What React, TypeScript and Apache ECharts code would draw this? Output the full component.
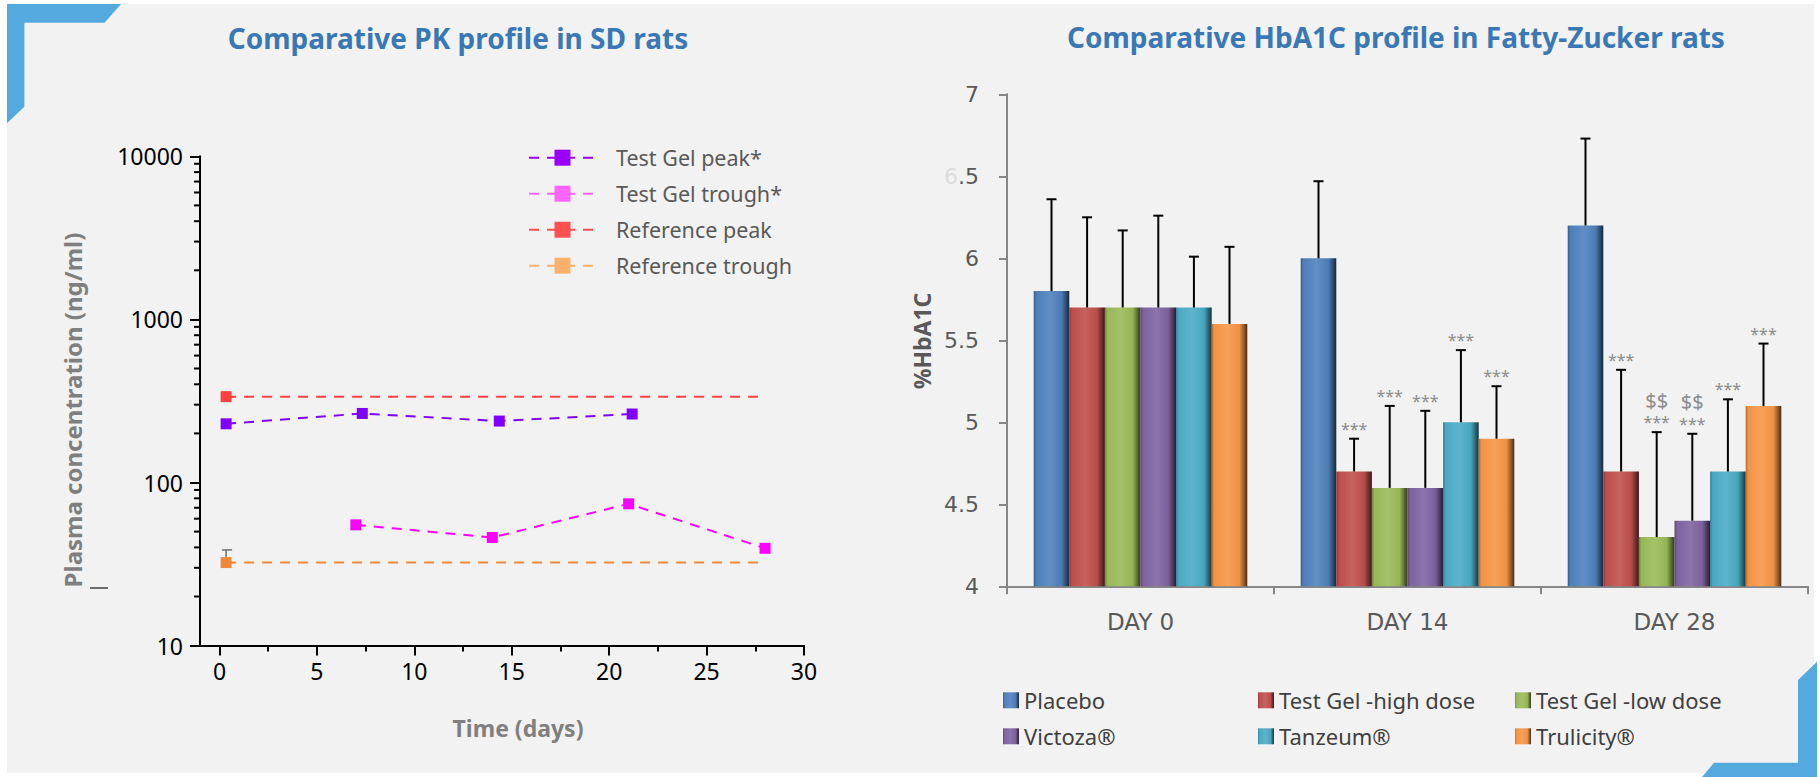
import React, { useEffect, useRef } from "react";
import * as echarts from "echarts";

// ---------- Left chart: PK profile (log scale) ----------
const pkXMin = -1;
const pkXMax = 30;
const pkMajorX = [0, 5, 10, 15, 20, 25, 30];
const pkMinorX = [2.5, 7.5, 12.5, 17.5, 22.5, 27.5];
const pkMinorY = [20, 30, 40, 50, 60, 70, 80, 90, 200, 300, 400, 500, 600, 700, 800, 900, 2000, 3000, 4000, 5000, 6000, 7000, 8000, 9000];

const peakDays = [0.34, 7.33, 14.36, 21.18];
const peakValues = [229, 265, 238, 263];
const troughDays = [7.0, 14.0, 21.0, 28.0];
const troughValues = [55, 46, 74, 39.5];
const refPeakDays = [0.34, 28];
const refPeakValues = [336, 336];
const refTroughDays = [0.34, 28];
const refTroughValues = [32.3, 32.3];
const refTroughErrTop = [38.6];

const pkNames = ["Test Gel peak*", "Test Gel trough*", "Reference peak", "Reference trough"];

// ---------- Right chart: HbA1C bars ----------
const hbCategories = ["DAY 0", "DAY 14", "DAY 28"];
const hbGroups = ["Placebo", "Test Gel -high dose", "Test Gel -low dose", "Victoza®", "Tanzeum®", "Trulicity®"];
const placebo = [5.8, 6.0, 6.2];
const highDose = [5.7, 4.7, 4.7];
const lowDose = [5.7, 4.6, 4.3];
const victoza = [5.7, 4.6, 4.4];
const tanzeum = [5.7, 5.0, 4.7];
const trulicity = [5.6, 4.9, 5.1];
const placeboErr = [6.36, 6.47, 6.73];
const highDoseErr = [6.25, 4.9, 5.32];
const lowDoseErr = [6.17, 5.1, 4.94];
const victozaErr = [6.26, 5.07, 4.93];
const tanzeumErr = [6.01, 5.44, 5.14];
const trulicityErr = [6.07, 5.22, 5.48];
const placeboSig = ["", "", ""];
const highDoseSig = ["", "***", "***"];
const lowDoseSig = ["", "***", "***"];
const victozaSig = ["", "***", "***"];
const tanzeumSig = ["", "***", "***"];
const trulicitySig = ["", "***", "***"];
const placeboSig2 = ["", "", ""];
const highDoseSig2 = ["", "", ""];
const lowDoseSig2 = ["", "", "$$"];
const victozaSig2 = ["", "", "$$"];
const tanzeumSig2 = ["", "", ""];
const trulicitySig2 = ["", "", ""];

const FONT = "'Noto Sans', 'Open Sans', sans-serif";

function shade(hex: string, f: number) {
  const n = parseInt(hex.slice(1), 16);
  let r = (n >> 16) & 255, g = (n >> 8) & 255, b = n & 255;
  const t = f < 0 ? 0 : 255;
  const p = Math.abs(f);
  r = Math.round(r + (t - r) * p);
  g = Math.round(g + (t - g) * p);
  b = Math.round(b + (t - b) * p);
  return `rgb(${r},${g},${b})`;
}

function bevel(hex: string) {
  return new echarts.graphic.LinearGradient(0, 0, 1, 0, [
    { offset: 0, color: shade(hex, -0.3) },
    { offset: 0.07, color: shade(hex, -0.02) },
    { offset: 0.45, color: shade(hex, 0.1) },
    { offset: 0.78, color: shade(hex, -0.04) },
    { offset: 0.92, color: shade(hex, -0.45) },
    { offset: 1, color: shade(hex, -0.7) },
  ]);
}

export default function App() {
  const ref = useRef<HTMLDivElement>(null);

  useEffect(() => {
    if (!ref.current) return;
    const chart = echarts.init(ref.current, null, { renderer: "svg" });

    const barColors = ["#4F81BD", "#C0504D", "#9BBB59", "#8064A2", "#4BACC6", "#F79646"];
    const barValues = [placebo, highDose, lowDose, victoza, tanzeum, trulicity];
    const barErrs = [placeboErr, highDoseErr, lowDoseErr, victozaErr, tanzeumErr, trulicityErr];
    const barSig = [placeboSig, highDoseSig, lowDoseSig, victozaSig, tanzeumSig, trulicitySig];
    const barSig2 = [placeboSig2, highDoseSig2, lowDoseSig2, victozaSig2, tanzeumSig2, trulicitySig2];

    const barSeries = hbGroups.map((name, g) => ({
      name,
      type: "bar",
      xAxisIndex: 2,
      yAxisIndex: 1,
      barGap: "0%",
      barCategoryGap: "20%",
      itemStyle: { color: bevel(barColors[g]) },
      data: barValues[g],
      z: 2,
    }));

    const errSeries = hbGroups.map((name, g) => ({
      type: "custom",
      name: name + " error",
      xAxisIndex: 2,
      yAxisIndex: 1,
      z: 5,
      silent: true,
      encode: { x: 0, y: [1, 2] },
      data: hbCategories.map((_, i) => [i, barValues[g][i], barErrs[g][i]]),
      renderItem: (params: any, api: any) => {
        const ci = api.value(0);
        const base = api.coord([ci, api.value(1)]);
        const top = api.coord([ci, api.value(2)]);
        const band = api.size([1, 0])[0];
        const bw = (band * 0.8) / 6;
        const x = base[0] + (g - 2.5) * bw;
        const children: any[] = [
          { type: "line", shape: { x1: x, y1: base[1], x2: x, y2: top[1] }, style: { stroke: "#000", lineWidth: 2 } },
          { type: "line", shape: { x1: x - 5, y1: top[1], x2: x + 5, y2: top[1] }, style: { stroke: "#000", lineWidth: 2 } },
        ];
        const s1 = barSig[g][params.dataIndex];
        if (s1) {
          children.push({
            type: "text",
            x,
            y: top[1] - 10,
            style: { text: s1, fill: "#8c8c8c", fontSize: 16, lineHeight: 16, fontFamily: FONT, align: "center", verticalAlign: "middle" },
          });
        }
        const s2 = barSig2[g][params.dataIndex];
        if (s2) {
          children.push({
            type: "text",
            x,
            y: top[1] - 32,
            style: { text: s2, fill: "#8c8c8c", fontSize: 20, lineHeight: 20, fontFamily: FONT, align: "center", verticalAlign: "middle" },
          });
        }
        return { type: "group", children };
      },
    }));

    const lineCommon = {
      type: "line",
      xAxisIndex: 0,
      yAxisIndex: 0,
      symbol: "rect",
      symbolSize: 11,
      z: 3,
    };

    const legendCols = [1003, 1258, 1515];
    const legendRows = [689.3, 725.3];
    const barLegends = hbGroups.map((name, i) => ({
      orient: "horizontal",
      left: legendCols[i % 3],
      top: legendRows[Math.floor(i / 3)],
      padding: 0,
      icon: "rect",
      itemWidth: 16,
      itemHeight: 16,
      textStyle: { fontSize: 22, lineHeight: 16, color: "#404040", fontFamily: FONT },
      data: [name],
    }));

    const option: any = {
      animation: false,
      backgroundColor: "#ffffff",
      graphic: [
        { type: "rect", z: -10, silent: true, shape: { x: 7, y: 4, width: 1807, height: 769 }, style: { fill: "#F2F2F2" } },
        {
          type: "polygon",
          z: 10,
          silent: true,
          shape: { points: [[7, 4], [121, 4], [104.5, 22.7], [24.4, 22.7], [24.4, 106.7], [7, 123.3]] },
          style: { fill: "#54AADF" },
        },
        {
          type: "polygon",
          z: 10,
          silent: true,
          shape: { points: [[1798, 680], [1817, 661.7], [1817, 777], [1702, 777], [1714, 762.7], [1798, 762.7]] },
          style: { fill: "#54AADF" },
        },
        {
          type: "text",
          x: 458,
          y: 38,
          style: { text: "Comparative PK profile in SD rats", fill: "#3A78B5", fontSize: 28, fontWeight: "bold", fontFamily: FONT, align: "center", verticalAlign: "middle" },
        },
        {
          type: "text",
          x: 1396,
          y: 37,
          style: { text: "Comparative HbA1C profile in Fatty-Zucker rats", fill: "#3A78B5", fontSize: 28, fontWeight: "bold", fontFamily: FONT, align: "center", verticalAlign: "middle" },
        },
        {
          type: "text",
          x: 72,
          y: 410,
          rotation: Math.PI / 2,
          style: { text: "Plasma concentration (ng/ml)", fill: "#7F7F7F", fontSize: 24, fontWeight: "bold", fontFamily: FONT, align: "center", verticalAlign: "middle" },
        },
        {
          type: "text",
          x: 518,
          y: 728,
          style: { text: "Time (days)", fill: "#7F7F7F", fontSize: 23, fontWeight: "bold", fontFamily: FONT, align: "center", verticalAlign: "middle" },
        },
        {
          type: "line",
          silent: true,
          shape: { x1: 90, y1: 588, x2: 108, y2: 588 },
          style: { stroke: "#404040", lineWidth: 1.5 },
        },
        {
          type: "text",
          x: 922,
          y: 341,
          rotation: Math.PI / 2,
          style: { text: "%HbA1C", fill: "#595959", fontSize: 23, fontWeight: "bold", fontFamily: FONT, align: "center", verticalAlign: "middle" },
        },
      ],
      grid: [
        { left: 200, top: 156.3, width: 604, height: 489.3 },
        { left: 1007, top: 94.3, width: 801, height: 492 },
      ],
      xAxis: [
        {
          gridIndex: 0,
          type: "value",
          min: pkXMin,
          max: pkXMax,
          axisLine: { show: true, onZero: false, lineStyle: { color: "#000", width: 2 } },
          axisTick: { show: true, customValues: pkMajorX, length: 10, lineStyle: { color: "#000", width: 2 } },
          axisLabel: { show: true, customValues: pkMajorX, margin: 14, fontSize: 23, color: "#000", fontFamily: FONT },
          splitLine: { show: false },
        },
        {
          gridIndex: 0,
          type: "value",
          position: "bottom",
          min: pkXMin,
          max: pkXMax,
          axisLine: { show: false, onZero: false },
          axisTick: { show: true, customValues: pkMinorX, length: 6, lineStyle: { color: "#000", width: 2 } },
          axisLabel: { show: false },
          splitLine: { show: false },
        },
        {
          gridIndex: 1,
          type: "category",
          data: hbCategories,
          axisLine: { show: true, lineStyle: { color: "#868686", width: 2 } },
          axisTick: { show: true, length: 8, lineStyle: { color: "#868686", width: 2 } },
          axisLabel: { margin: 24, fontSize: 23, color: "#595959", fontFamily: "'DejaVu Sans', sans-serif" },
          splitLine: { show: false },
        },
      ],
      yAxis: [
        {
          gridIndex: 0,
          type: "log",
          logBase: 10,
          min: 10,
          max: 10000,
          axisLine: { show: true, onZero: false, lineStyle: { color: "#000", width: 2 } },
          axisTick: { show: true, length: 10, lineStyle: { color: "#000", width: 2 } },
          axisLabel: { margin: 17, fontSize: 23, color: "#000", fontFamily: FONT, formatter: (v: number) => String(Math.round(v)) },
          splitLine: { show: false },
          minorTick: { show: false },
        },
        {
          gridIndex: 1,
          type: "value",
          min: 4,
          max: 7,
          interval: 0.5,
          axisLine: { show: true, lineStyle: { color: "#868686", width: 2 } },
          axisTick: { show: true, length: 8, lineStyle: { color: "#868686", width: 2 } },
          axisLabel: {
            margin: 28,
            fontSize: 22,
            color: "#595959",
            fontFamily: "'DejaVu Sans', sans-serif",
            formatter: (v: number) => (v === 6.5 ? "{h|6}.5" : String(v)),
            rich: { h: { color: "#dcdcdc", fontSize: 22, fontFamily: "'DejaVu Sans', sans-serif" } },
          },
          splitLine: { show: false },
        },
      ],
      legend: [
        {
          orient: "vertical",
          left: 528,
          top: 146.7,
          padding: 0,
          itemWidth: 67,
          itemHeight: 20,
          itemGap: 14,
          textStyle: { fontSize: 21.5, color: "#595959", fontFamily: FONT, lineHeight: 20, padding: [0, 0, 0, 15] },
          data: [
            { name: pkNames[0], itemStyle: { color: "#9900FF" }, lineStyle: { color: "#9900FF" } },
            { name: pkNames[1], itemStyle: { color: "#FF66FF" }, lineStyle: { color: "#FF66FF" } },
            { name: pkNames[2], itemStyle: { color: "#FF5050" }, lineStyle: { color: "#FF5050" } },
            { name: pkNames[3], itemStyle: { color: "#FBB06C" }, lineStyle: { color: "#FBB06C" } },
          ],
        },
        ...barLegends,
      ],
      series: [
        {
          ...lineCommon,
          name: pkNames[0],
          itemStyle: { color: "#7F00FF" },
          lineStyle: { color: "#8000FF", width: 2, type: [10, 8] },
          data: peakDays.map((d, i) => [d, peakValues[i]]),
        },
        {
          ...lineCommon,
          name: pkNames[1],
          itemStyle: { color: "#FF00FF" },
          lineStyle: { color: "#FF00FF", width: 2, type: [10, 8] },
          data: troughDays.map((d, i) => [d, troughValues[i]]),
        },
        {
          ...lineCommon,
          name: pkNames[2],
          itemStyle: { color: "#FF4040" },
          lineStyle: { color: "#FF4040", width: 2, type: [10, 8] },
          data: refPeakDays.map((d, i) => (i === 0 ? { value: [d, refPeakValues[i]] } : { value: [d, refPeakValues[i]], symbol: "none" })),
        },
        {
          ...lineCommon,
          name: pkNames[3],
          itemStyle: { color: "#F0883A" },
          lineStyle: { color: "#F0883A", width: 2, type: [10, 8] },
          data: refTroughDays.map((d, i) => (i === 0 ? { value: [d, refTroughValues[i]] } : { value: [d, refTroughValues[i]], symbol: "none" })),
        },
        {
          type: "custom",
          name: "Reference trough error",
          xAxisIndex: 0,
          yAxisIndex: 0,
          z: 2,
          silent: true,
          encode: { x: 0, y: [1, 2] },
          data: refTroughErrTop.map((t) => [refTroughDays[0], refTroughValues[0], t]),
          renderItem: (params: any, api: any) => {
            const b = api.coord([api.value(0), api.value(1)]);
            const t = api.coord([api.value(0), api.value(2)]);
            return {
              type: "group",
              children: [
                { type: "line", shape: { x1: b[0], y1: b[1], x2: t[0], y2: t[1] }, style: { stroke: "#595959", lineWidth: 1.3 } },
                { type: "line", shape: { x1: t[0] - 4, y1: t[1], x2: t[0] + 6, y2: t[1] }, style: { stroke: "#595959", lineWidth: 1.3 } },
              ],
            };
          },
        },
        {
          type: "custom",
          name: "minor log ticks",
          xAxisIndex: 0,
          yAxisIndex: 0,
          silent: true,
          clip: false,
          encode: { x: 0, y: 1 },
          data: pkMinorY.map((v) => [pkXMin, v]),
          renderItem: (params: any, api: any) => {
            const p = api.coord([api.value(0), api.value(1)]);
            return { type: "line", shape: { x1: p[0] - 6, y1: p[1], x2: p[0], y2: p[1] }, style: { stroke: "#000", lineWidth: 2 } };
          },
        },
        ...barSeries,
        ...errSeries,
      ],
    };

    chart.setOption(option);
    return () => chart.dispose();
  }, []);

  return <div ref={ref} style={{ position: "fixed", left: 0, top: 0, width: 1820, height: 777 }} />;
}
